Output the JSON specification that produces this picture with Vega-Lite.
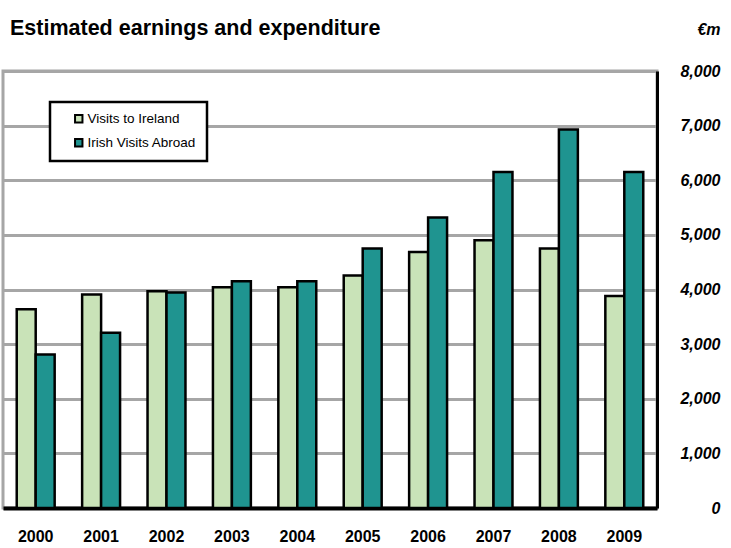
{
  "$schema": "https://vega.github.io/schema/vega-lite/v6.json",
  "autosize": "none",
  "width": 654,
  "height": 437,
  "padding": {"left": 3, "top": 71, "right": 74, "bottom": 40},
  "background": "white",
  "config": {
    "font": "Liberation Sans",
    "view": {"stroke": "#A6A6A6", "strokeWidth": 3}
  },
  "title": {
    "text": "Estimated earnings and expenditure",
    "anchor": "start",
    "frame": "group",
    "baseline": "alphabetic",
    "offset": 0,
    "dy": 35,
    "dx": 7,
    "fontSize": 21.5,
    "fontWeight": "bold",
    "font": "Liberation Sans",
    "color": "black"
  },
  "data": {
    "values": [
      {"year": "2000", "series": "Visits to Ireland", "value": 3640},
      {"year": "2000", "series": "Irish Visits Abroad", "value": 2810},
      {"year": "2001", "series": "Visits to Ireland", "value": 3910},
      {"year": "2001", "series": "Irish Visits Abroad", "value": 3210},
      {"year": "2002", "series": "Visits to Ireland", "value": 3970},
      {"year": "2002", "series": "Irish Visits Abroad", "value": 3945},
      {"year": "2003", "series": "Visits to Ireland", "value": 4040},
      {"year": "2003", "series": "Irish Visits Abroad", "value": 4150},
      {"year": "2004", "series": "Visits to Ireland", "value": 4040},
      {"year": "2004", "series": "Irish Visits Abroad", "value": 4150},
      {"year": "2005", "series": "Visits to Ireland", "value": 4255},
      {"year": "2005", "series": "Irish Visits Abroad", "value": 4750},
      {"year": "2006", "series": "Visits to Ireland", "value": 4685},
      {"year": "2006", "series": "Irish Visits Abroad", "value": 5320},
      {"year": "2007", "series": "Visits to Ireland", "value": 4900},
      {"year": "2007", "series": "Irish Visits Abroad", "value": 6150},
      {"year": "2008", "series": "Visits to Ireland", "value": 4750},
      {"year": "2008", "series": "Irish Visits Abroad", "value": 6930},
      {"year": "2009", "series": "Visits to Ireland", "value": 3880},
      {"year": "2009", "series": "Irish Visits Abroad", "value": 6150}
    ]
  },
  "mark": {"type": "bar", "stroke": "black", "strokeWidth": 2.5},
  "encoding": {
    "x": {
      "field": "year",
      "type": "nominal",
      "scale": {"paddingInner": 0.42, "paddingOuter": 0.21},
      "axis": {
        "title": null,
        "labelAngle": 0,
        "labelFontSize": 16,
        "labelFontWeight": "bold",
        "labelColor": "black",
        "labelPadding": 20,
        "ticks": false,
        "domainColor": "black",
        "domainWidth": 4
      }
    },
    "xOffset": {"field": "series", "type": "nominal", "sort": ["Visits to Ireland", "Irish Visits Abroad"], "scale": {"paddingInner": 0}},
    "y": {
      "field": "value",
      "type": "quantitative",
      "scale": {"domain": [0, 8000], "nice": false},
      "axis": {
        "orient": "right",
        "title": "€m",
        "titleAngle": 0,
        "titleX": 63,
        "titleY": -37,
        "titleAlign": "right",
        "titleBaseline": "alphabetic",
        "titleFontSize": 16,
        "titleFontWeight": "bold",
        "titleFontStyle": "italic",
        "titleColor": "black",
        "values": [0, 1000, 2000, 3000, 4000, 5000, 6000, 7000, 8000],
        "format": ",.0f",
        "labelAlign": "right",
        "labelPadding": 63,
        "labelFontSize": 16,
        "labelFontWeight": "bold",
        "labelFontStyle": "italic",
        "labelColor": "black",
        "ticks": false,
        "domainColor": "black",
        "domainWidth": 3,
        "grid": true,
        "gridColor": "#A6A6A6",
        "gridWidth": 3
      }
    },
    "fill": {
      "field": "series",
      "type": "nominal",
      "sort": ["Visits to Ireland", "Irish Visits Abroad"],
      "scale": {"domain": ["Visits to Ireland", "Irish Visits Abroad"], "range": ["#C9E3B8", "#1F9490"]},
      "legend": {
        "title": null,
        "orient": "none",
        "legendX": 47,
        "legendY": 31,
        "fillColor": "white",
        "strokeColor": "black",
        "padding": 10,
        "symbolOffset": 12,
        "symbolType": "square",
        "symbolSize": 55,
        "symbolStrokeColor": "black",
        "symbolStrokeWidth": 2,
        "labelFontSize": 13.5,
        "labelColor": "black",
        "labelOffset": 2,
        "rowPadding": 8,
        "encode": {"legend": {"update": {"strokeWidth": {"value": 2.5}}}}
      }
    }
  }
}
